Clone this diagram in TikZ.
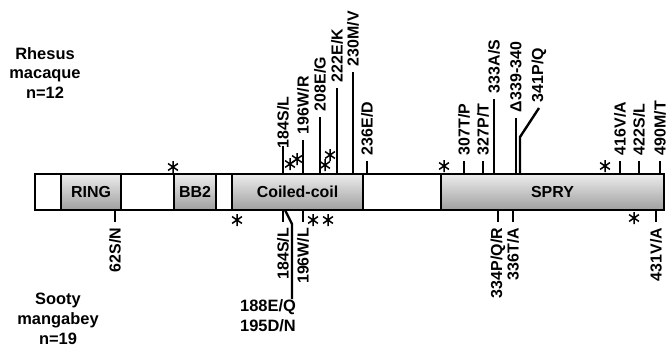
\documentclass[tikz,border=0pt]{standalone}
\usepackage{fontspec}
\setmainfont{Liberation Sans}
\usetikzlibrary{calc}

\tikzset{
    dom/.style={draw, line width=1.6bp, minimum height=36bp, inner sep=0pt,
        font=\bfseries\fontsize{16}{18}\selectfont},
    shaded/.style={top color=gray!15, bottom color=gray!75},
    mut/.style={line width=2.4bp},
    mutlbl/.style={rotate=90, inner sep=0pt, outer sep=6bp,
        font=\bfseries\fontsize{16}{18}\selectfont},
    species/.style={align=center, inner sep=0pt,
        font=\bfseries\fontsize{16.5}{20}\selectfont},
    astk/.style={minimum size=12bp, inner sep=0pt,
        path picture={\draw[line width=1.5bp] (path picture bounding box.center)
            +(90:6bp) -- +(270:6bp) +(35:6bp) -- +(215:6bp)
            +(145:6bp) -- +(325:6bp);}}
}

\begin{document}
\begin{tikzpicture}[x=1bp, y=-1bp]
    \useasboundingbox (0,0) rectangle (668,349);

    % species
    \node[species] (rhesus) at (45,73) {Rhesus\\macaque\\n=12};
    \node[species] (sooty) at (58,319) {Sooty\\mangabey\\n=19};

    % protein bar
    \node[dom, minimum width=26bp] (nterm) at (48,192) {};
    \node[dom, shaded, minimum width=60bp] (ring) at (91,192) {RING};
    \node[dom, minimum width=53bp] (link1) at (147.5,192) {};
    \node[dom, shaded, minimum width=42bp] (bb2) at (195,192) {BB2};
    \node[dom, minimum width=16bp] (link2) at (224,192) {};
    \node[dom, shaded, minimum width=131bp] (cc) at (297.5,192) {Coiled-coil};
    \node[dom, minimum width=78bp] (link3) at (402,192) {};
    \node[dom, shaded, minimum width=223bp] (spry) at (552.5,192) {SPRY};

    % rhesus macaque (above)
    \coordinate (b184) at (283,174);
    \coordinate (b196) at (303,174);
    \coordinate (b208) at (320,174);
    \coordinate (b222) at (337,174);
    \coordinate (b230) at (353,174);
    \coordinate (b236) at (367,174);
    \coordinate (b307) at (464,174);
    \coordinate (b327) at (483,174);
    \coordinate (b333) at (494,174);
    \coordinate (b339) at (516,174);
    \coordinate (b341) at (520,174);
    \coordinate (b416) at (620,174);
    \coordinate (b422) at (639,174);
    \coordinate (b490) at (660,174);

    \node[mutlbl, anchor=west] (l184) at (283,154) {184S/L};
    \node[mutlbl, anchor=west] (l196) at (303,140) {196W/R};
    \node[mutlbl, anchor=west] (l208) at (320,117) {208E/G};
    \node[mutlbl, anchor=west] (l222) at (337,88) {222E/K};
    \node[mutlbl, anchor=west] (l230) at (353,72) {230M/V};
    \node[mutlbl, anchor=west] (l236) at (367,161) {236E/D};
    \node[mutlbl, anchor=west] (l307) at (464,161) {307T/P};
    \node[mutlbl, anchor=west] (l327) at (483,161) {327P/T};
    \node[mutlbl, anchor=west] (l333) at (494,99) {333A/S};
    \node[mutlbl, anchor=west] (l339) at (516,118) {Δ339-340};
    \node[mutlbl, anchor=west] (l341) at (539,108) {341P/Q};
    \node[mutlbl, anchor=west] (l416) at (620,161) {416V/A};
    \node[mutlbl, anchor=west] (l422) at (639,161) {422S/L};
    \node[mutlbl, anchor=west] (l490) at (660,161) {490M/T};

    \draw[mut, shorten >=-8bp] (b184) -- (l184.west);
    \draw[mut] (b196) -- (l196.west);
    \draw[mut] (b208) -- (l208.west);
    \draw[mut] (b222) -- (l222.west);
    \draw[mut] (b230) -- (l230.west);
    \draw[mut] (b236) -- (l236.west);
    \draw[mut] (b307) -- (l307.west);
    \draw[mut] (b327) -- (l327.west);
    \draw[mut] (b333) -- (l333.west);
    \draw[mut] (b339) -- (l339.west);
    \draw[mut] (b341) -- ++(0,-37) -- (l341.west);
    \draw[mut] (b416) -- (l416.west);
    \draw[mut] (b422) -- (l422.west);
    \draw[mut] (b490) -- (l490.west);

    \node[astk] (s1) at (173,167) {};
    \node[astk] (s2) at (290,164) {};
    \node[astk] (s3) at (297,159) {};
    \node[astk] (s4) at (325,165) {};
    \node[astk] (s5) at (330,155) {};
    \node[astk] (s6) at (444,166) {};
    \node[astk] (s7) at (605,166) {};

    % sooty mangabey (below)
    \coordinate (c62) at (115,210);
    \coordinate (c184) at (283,210);
    \coordinate (c188) at (285,210);
    \coordinate (c196) at (303,210);
    \coordinate (c334) at (498,210);
    \coordinate (c336) at (513,210);
    \coordinate (c431) at (656,210);

    \node[mutlbl, anchor=east] (m62) at (115,222) {62S/N};
    \node[mutlbl, anchor=east] (m184) at (283,222) {184S/L};
    \node[mutlbl, anchor=east] (m196) at (303,222) {196W/L};
    \node[mutlbl, anchor=east] (m334) at (498,222) {334P/Q/R};
    \node[mutlbl, anchor=east] (m336) at (513,222) {336T/A};
    \node[mutlbl, anchor=east] (m431) at (656,222) {431V/A};
    \node[species, anchor=north] (m188) at (268,299) {188E/Q\\195D/N};

    \draw[mut] (c62) -- (m62.east);
    \draw[mut] (c184) -- (m184.east);
    \draw[mut] (c196) -- (m196.east);
    \draw[mut] (c334) -- (m334.east);
    \draw[mut] (c336) -- (m336.east);
    \draw[mut] (c431) -- (m431.east);
    \draw[mut] (c188) -- ++(7,14) coordinate (k188) -- (k188 |- m188.north);

    \node[astk] (s8) at (237,220) {};
    \node[astk] (s9) at (313,220) {};
    \node[astk] (s10) at (328,220) {};
    \node[astk] (s11) at (634,218) {};
\end{tikzpicture}
\end{document}
